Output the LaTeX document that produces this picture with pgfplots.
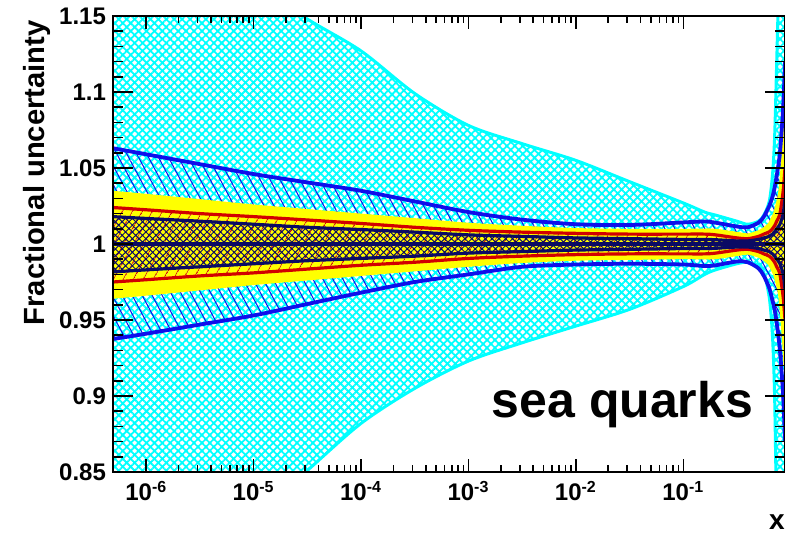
\documentclass[border=0pt]{standalone}
\usepackage{pgfplots}
\pgfplotsset{compat=1.18}
\usepackage{pgfplotstable}
\usepgfplotslibrary{fillbetween}
\usetikzlibrary{patterns.meta}
\usepackage{fontspec}
\setmainfont{Liberation Sans}
\definecolor{rcyan}{RGB}{0,255,255}
\definecolor{rblue}{RGB}{15,15,235}
\definecolor{rnavy}{RGB}{10,10,100}
\definecolor{rred}{RGB}{210,0,0}
\definecolor{ryellow}{RGB}{255,255,0}

\pgfplotstableread{
x        cu     cl     bu      bl      yu      yl      ru      rl      nu      nl
4.9e-7   1.27   0.74   1.063   0.9375  1.034   0.965   1.024   0.975   1.018   0.9816
1e-6     1.24   0.76   1.059   0.941   1.032   0.967   1.0225  0.9765  1.0168  0.983
3.16e-6  1.20   0.79   1.0525  0.947   1.0285  0.9705  1.020   0.979   1.015   0.985
1e-5     1.172  0.82   1.046   0.953   1.025   0.974   1.018   0.981   1.013   0.987
3.16e-5  1.148  0.851  1.0405  0.9605  1.022   0.977   1.0158  0.9835  1.011   0.989
1e-4     1.127  0.882  1.035   0.968   1.019   0.980   1.0135  0.986   1.0095  0.9905
3.16e-4  1.099  0.905  1.028   0.975   1.016   0.983   1.011   0.988   1.0078  0.992
1e-3     1.078  0.923  1.021   0.980   1.013   0.986   1.009   0.9905  1.006   0.994
3.16e-3  1.066  0.935  1.016   0.985   1.011   0.9885  1.0078  0.992   1.005   0.995
0.01     1.055  0.946  1.013   0.9865  1.0095  0.990   1.007   0.993   1.004   0.996
0.0316   1.041  0.957  1.0125  0.987   1.009   0.9905  1.0065  0.9935  1.0035  0.9965
0.1      1.027  0.972  1.0142  0.9865  1.009   0.991   1.0065  0.9935  1.003   0.997
0.158    1.021  0.980  1.0148  0.9855  1.0092  0.9908  1.0065  0.9935  1.003   0.997
0.2      1.019  0.983  1.014   0.986   1.009   0.991   1.006   0.994   1.0028  0.9972
0.316    1.015  0.987  1.0115  0.9885  1.007   0.993   1.004   0.996   1.002   0.998
0.398    1.013  0.988  1.011   0.988   1.006   0.994   1.0035  0.9965  1.002   0.998
0.501    1.015  0.986  1.014   0.984   1.008   0.992   1.005   0.995   1.003   0.997
0.562    1.019  0.981  1.018   0.979   1.010   0.990   1.0065  0.9935  1.004   0.996
0.631    1.028  0.965  1.025   0.971   1.013   0.987   1.008   0.992   1.005   0.995
0.676    1.045  0.94   1.031   0.963   1.017   0.983   1.010   0.990   1.0065  0.9935
0.708    1.07   0.90   1.037   0.957   1.02    0.98    1.012   0.988   1.008   0.992
0.741    1.12   0.82   1.045   0.948   1.025   0.975   1.015   0.985   1.01    0.99
0.794    1.2    0.75   1.06    0.93    1.035   0.965   1.02    0.98    1.013   0.987
0.851    1.26   0.72   1.09    0.90    1.06    0.94    1.035   0.965   1.02    0.98
0.885    1.3    0.70   1.12    0.87    1.08    0.92    1.05    0.95    1.03    0.97
}\bands

\begin{document}
\begin{tikzpicture}
\begin{axis}[
  at={(0,0)}, anchor=south west, scale only axis,
  width=336pt, height=228pt,
  axis on top,
  xmode=log, xmin=4.9e-7, xmax=0.885, ymin=0.85, ymax=1.15,
  xtick={1e-6,1e-5,1e-4,1e-3,1e-2,1e-1},
  xticklabels={10\textsuperscript{-6},10\textsuperscript{-5},10\textsuperscript{-4},10\textsuperscript{-3},10\textsuperscript{-2},10\textsuperscript{-1}},
  ytick={0.85,0.9,0.95,1,1.05,1.1,1.15},
  yticklabels={0.85,0.9,0.95,1,1.05,1.1,1.15},
  minor y tick num=4,
  tick align=inside, tick pos=both, xticklabel pos=lower, yticklabel pos=left,
  axis line style={line width=1pt},
  every tick/.style={black, line width=0.8pt},
  xtick style={/pgfplots/major tick length=6.5pt,/pgfplots/minor tick length=3.5pt},
  ytick style={/pgfplots/major tick length=10pt,/pgfplots/minor tick length=5pt},
  xticklabel style={font=\fontsize{12}{14}\selectfont\bfseries, yshift=-1pt},
  yticklabel style={font=\fontsize{12}{14}\selectfont\bfseries},
  xlabel={x},
  xlabel style={at={(axis description cs:0.988,-0.11)}, anchor=center, font=\fontsize{14}{16}\selectfont\bfseries},
  ylabel={Fractional uncertainty},
  ylabel style={at={(axis description cs:-0.1131,1.006)}, anchor=east, font=\fontsize{14.6}{16}\selectfont\bfseries},
]
\addplot[name path=cu, draw=none, smooth] table[x=x,y=cu]{\bands};
\addplot[name path=cl, draw=none, smooth] table[x=x,y=cl]{\bands};
\addplot[name path=bu, draw=none, smooth] table[x=x,y=bu]{\bands};
\addplot[name path=bl, draw=none, smooth] table[x=x,y=bl]{\bands};
\addplot[name path=yu, draw=none, smooth] table[x=x,y=yu]{\bands};
\addplot[name path=yl, draw=none, smooth] table[x=x,y=yl]{\bands};
\addplot[name path=ru, draw=none, smooth] table[x=x,y=ru]{\bands};
\addplot[name path=rl, draw=none, smooth] table[x=x,y=rl]{\bands};
\addplot[name path=nu, draw=none, smooth] table[x=x,y=nu]{\bands};
\addplot[name path=nl, draw=none, smooth] table[x=x,y=nl]{\bands};

\addplot[draw=none, pattern={Hatch[angle=45,distance=2.8pt,line width=0.9pt]}, pattern color=rcyan] fill between[of=cu and cl];
\addplot[draw=none, pattern={Lines[angle=-62,distance=4.4pt,line width=0.5pt]}, pattern color=rblue] fill between[of=bu and bl];
\addplot[draw=none, fill=ryellow] fill between[of=yu and yl];
\addplot[draw=none, pattern={Lines[angle=60,distance=4pt,line width=0.4pt]}, pattern color=rred] fill between[of=ru and rl];
\addplot[draw=none, pattern={Hatch[angle=45,distance=2.4pt,line width=0.5pt]}, pattern color=rnavy] fill between[of=nu and nl];

\addplot[rcyan, line width=1.5pt, smooth] table[x=x,y=cu]{\bands};
\addplot[rcyan, line width=1.5pt, smooth] table[x=x,y=cl]{\bands};
\addplot[ryellow, line width=1.5pt, smooth] table[x=x,y=yu]{\bands};
\addplot[ryellow, line width=1.5pt, smooth] table[x=x,y=yl]{\bands};
\addplot[rblue, line width=1.9pt, smooth] table[x=x,y=bu]{\bands};
\addplot[rblue, line width=1.9pt, smooth] table[x=x,y=bl]{\bands};
\addplot[rred, line width=1.6pt, smooth] table[x=x,y=ru]{\bands};
\addplot[rred, line width=1.6pt, smooth] table[x=x,y=rl]{\bands};
\addplot[rnavy, line width=1.6pt, smooth] table[x=x,y=nu]{\bands};
\addplot[rnavy, line width=1.6pt, smooth] table[x=x,y=nl]{\bands};
\addplot[rnavy, line width=1.9pt] coordinates {(4.9e-7,1) (0.885,1)};

\node[anchor=base east, font=\fontsize{25}{30}\selectfont\bfseries] at (rel axis cs:0.963,0.1206) {sea quarks};
\end{axis}
\pgfresetboundingbox
\useasboundingbox (-56.5pt,-31pt) rectangle (336pt,236pt);
\end{tikzpicture}
\end{document}
